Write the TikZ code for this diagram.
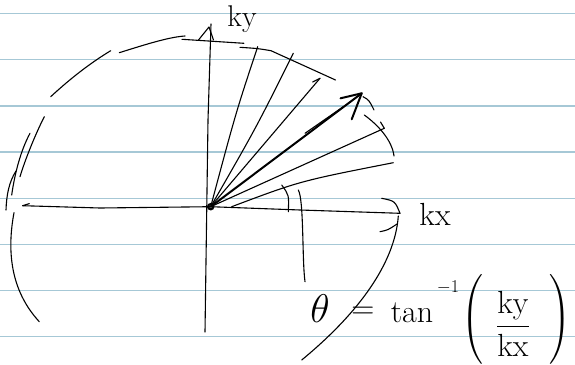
\RequirePackage{fix-cm}
\documentclass[tikz,border=0pt]{standalone}
\usepackage{amsmath}
\usetikzlibrary{arrows.meta}
\definecolor{ruleblue}{RGB}{166,200,214}

\begin{document}
\begin{tikzpicture}[
    x=1pt, y=-1pt,
    ink/.style={line width=1.1pt, line cap=round, line join=round},
    heavyink/.style={ink, line width=2pt},
    ruleline/.style={draw=ruleblue, line width=1.6pt},
    hand/.style={font=\fontsize{32}{32}\selectfont, inner sep=0pt}
]
\useasboundingbox (0,0) rectangle (575,364);
\fill[white] (0,0) rectangle (575,364);

% ruled paper
\foreach \y in {13.3,59.5,105.7,152,198.3,244.3,290.3,336.6}
    \draw[ruleline] (0,\y) -- (575,\y);

\coordinate (o) at (210.7,206.7);

% axes
\draw[ink] (22.7,205.7) -- (100,208) -- (o) -- (300,210) -- (400,213.3);
\draw[ink] (22.7,205.7) -- (29.3,203.6);
\draw[ink] (211,24) -- (208,120) -- (205,332);
\draw[ink] (198.5,40) -- (209,27) -- (213.5,40);

% circle, drawn in pieces
\draw[ink] (182,39.3) -- (243.9,43.3);
\draw[ink] (240,47.3) .. controls (258,48.5) .. (271,50.7) -- (335.5,80);
\draw[ink] (119.3,52.7) .. controls (150,43) and (170,37) .. (185,36);
\draw[ink] (50.7,96.7) .. controls (72,77) and (92,62) .. (110.7,50.7);
\draw[ink] (44.3,116.7) .. controls (35,135) and (25,160) .. (20,176.7);
\draw[ink] (30,133.3) .. controls (21,150) and (15,172) .. (11.7,195);
\draw[ink] (6,210) .. controls (6.5,195) and (9,182) .. (16,171);
\draw[ink] (14,212.7) .. controls (7,250) and (10,290) .. (39.3,321.7);
\draw[ink] (363,96.7) .. controls (369,100) .. (374,110);
\draw[ink] (364.3,115) .. controls (378,125) and (392,140) .. (394,156);
\draw[ink] (398.3,216) .. controls (395,262) and (360,312) .. (301.7,360);

% x-axis tip
\draw[ink] (381.7,198.3) .. controls (395,201) .. (400,213.3);
\draw[ink] (380,231.7) .. controls (388,230) .. (397,224);

% rays
\draw[ink] (o) .. controls (236,112) .. (257.7,46.7);
\draw[ink] (o) .. controls (256,128) .. (293.3,53.3);
\draw[ink] (o) -- (320,78.3);
\draw[ink] (312.7,82) -- (320,78.3);
\draw[heavyink] (o) -- (361.7,93.3);
\draw[heavyink] (340.5,98.3) -- (361.7,93.3) -- (351.7,119.3);
\draw[ink] (305,133.3) -- (343.3,106.7);
\draw[ink] (o) -- (384.3,128.3);
\draw[ink] (380.5,122) -- (384.3,128.3);
\draw[ink] (231.7,206.7) .. controls (300,181) .. (393.3,162.7);
\draw[line width=2.2pt] (o) circle (2.6);

% angle marks
\draw[ink] (281.7,185) .. controls (289,195) .. (288.3,211.7);
\draw[ink] (298.3,190) .. controls (304,200) and (302,260) .. (305,281.7);

% labels
\node[hand, font=\fontsize{30}{30}\selectfont] (ky) at (242,19) {ky};
\node[hand] (kx) at (435,214) {kx};
\node[hand, font=\fontsize{40}{40}\selectfont] (theta) at (320,309) {$\theta$};
\node[hand] (eq) at (363,313) {$=$};
\node[hand] (tan) at (412,313) {tan};
\node[hand, font=\fontsize{18}{18}\selectfont] (inv) at (448,287) {$-1$};
\node[hand, font=\fontsize{28}{28}\selectfont] (lpar) at (472,319) {$\Bigg($};
\node[hand] (frac) at (513,324) {$\dfrac{\mathrm{ky}}{\mathrm{kx}}$};
\node[hand, font=\fontsize{28}{28}\selectfont] (rpar) at (560,319) {$\Bigg)$};
\end{tikzpicture}
\end{document}
